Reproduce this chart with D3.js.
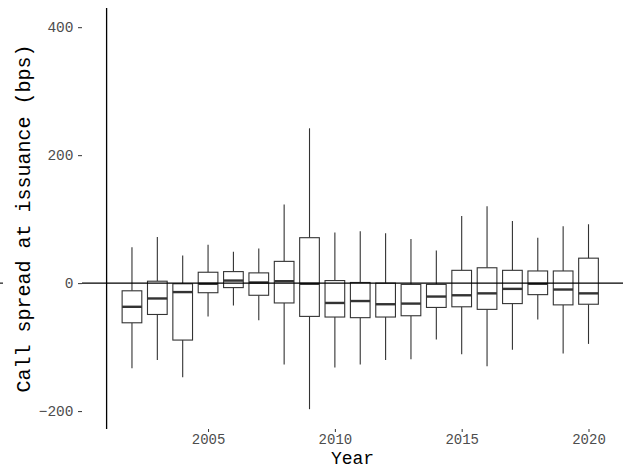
<!DOCTYPE html>
<html>
<head>
<meta charset="utf-8">
<script src="https://cdn.jsdelivr.net/npm/d3@7"></script>
<style>
  html, body { margin: 0; padding: 0; background: #ffffff; }
  svg { display: block; }
  text { font-family: "Liberation Mono", "DejaVu Sans Mono", monospace; }
</style>
</head>
<body>
<svg id="chart" width="623" height="469"></svg>
<script>
// Call spread at issuance by year: box-plot summaries (bps)
const years   = [2002, 2003, 2004, 2005, 2006, 2007, 2008, 2009, 2010, 2011,
                 2012, 2013, 2014, 2015, 2016, 2017, 2018, 2019, 2020];
const lowerW  = [-133, -120, -147, -52, -35, -58, -127, -197, -132, -127,
                 -120, -119, -88, -111, -130, -104, -57, -110, -95];
const q1      = [-62, -49, -89, -15, -7, -19, -31, -52, -53, -54,
                 -53, -51, -38, -37, -41, -32, -18, -34, -33];
const medians = [-37, -24, -14, -1, 4, 1, 3, -1, -31, -28,
                 -33, -32, -21, -19, -16, -9, -1, -10, -16];
const q3      = [-12, 3, -1, 17, 18, 16, 34, 71, 4, 1,
                 0, -2, -2, 20, 24, 20, 19, 19, 39];
const upperW  = [56, 72, 43, 60, 49, 54, 123, 242, 79, 81,
                 78, 69, 51, 105, 120, 97, 71, 89, 92];

const yTicks = [-200, 0, 200, 400];
const xTicks = [2005, 2010, 2015, 2020];
const refYear = 2001;   // vertical reference line
const refSpread = 0;    // horizontal reference line

const boxes = years.map((yr, i) => ({
  year: yr, lo: lowerW[i], q1: q1[i], med: medians[i], q3: q3[i], hi: upperW[i]
}));

const svg = d3.select("#chart");
const panel = { left: 82, right: 623, top: 8, bottom: 429 };

const x = d3.scaleLinear().domain([2000.03, 2021.36]).range([panel.left, panel.right]);
const y = d3.scaleLinear().domain([-228, 430]).range([panel.bottom, panel.top]);
const boxHalf = 0.388; // half box width in years

// Y axis (ticks and labels only)
const yAxis = svg.append("g")
  .attr("transform", `translate(${panel.left},0)`)
  .call(d3.axisLeft(y).tickValues(yTicks).tickSize(4).tickPadding(4.5));
yAxis.select(".domain").remove();
yAxis.selectAll(".tick line").attr("stroke", "#333333").attr("stroke-width", 1);
yAxis.selectAll(".tick text")
  .attr("fill", "#4d4d4d")
  .style("font-size", "14.5px");

// X axis (ticks and labels only)
const xAxis = svg.append("g")
  .attr("transform", `translate(0,${panel.bottom})`)
  .call(d3.axisBottom(x).tickValues(xTicks).tickFormat(d3.format("d")).tickSize(3).tickPadding(2.5));
xAxis.select(".domain").remove();
xAxis.selectAll(".tick line").attr("stroke", "#333333").attr("stroke-width", 1);
xAxis.selectAll(".tick text")
  .attr("fill", "#4d4d4d")
  .style("font-size", "14px");

// Boxes
const g = svg.append("g");
const bx = g.selectAll("g.box").data(boxes).join("g").attr("class", "box");

bx.append("line")
  .attr("x1", d => x(d.year)).attr("x2", d => x(d.year))
  .attr("y1", d => y(d.q3)).attr("y2", d => y(d.hi))
  .attr("stroke", "#333333").attr("stroke-width", 1.1);
bx.append("line")
  .attr("x1", d => x(d.year)).attr("x2", d => x(d.year))
  .attr("y1", d => y(d.q1)).attr("y2", d => y(d.lo))
  .attr("stroke", "#333333").attr("stroke-width", 1.1);
bx.append("rect")
  .attr("x", d => x(d.year - boxHalf))
  .attr("width", d => x(d.year + boxHalf) - x(d.year - boxHalf))
  .attr("y", d => y(d.q3))
  .attr("height", d => y(d.q1) - y(d.q3))
  .attr("fill", "#ffffff")
  .attr("stroke", "#333333").attr("stroke-width", 1.1);
bx.append("line")
  .attr("x1", d => x(d.year - boxHalf)).attr("x2", d => x(d.year + boxHalf))
  .attr("y1", d => y(d.med)).attr("y2", d => y(d.med))
  .attr("stroke", "#333333").attr("stroke-width", 2.4);

// Reference lines
svg.append("line")
  .attr("x1", panel.left).attr("x2", panel.right)
  .attr("y1", y(refSpread)).attr("y2", y(refSpread))
  .attr("stroke", "#000000").attr("stroke-width", 1.1);
svg.append("line")
  .attr("x1", 0).attr("x2", 3)
  .attr("y1", y(refSpread)).attr("y2", y(refSpread))
  .attr("stroke", "#000000").attr("stroke-width", 1.1);
svg.append("line")
  .attr("x1", x(refYear)).attr("x2", x(refYear))
  .attr("y1", panel.top).attr("y2", panel.bottom)
  .attr("stroke", "#000000").attr("stroke-width", 1.3);

// Axis titles
svg.append("text")
  .attr("x", (panel.left + panel.right) / 2)
  .attr("y", 463.5)
  .attr("text-anchor", "middle")
  .attr("fill", "#000000")
  .style("font-size", "18px")
  .text("Year");

svg.append("text")
  .attr("transform", `translate(30,${(panel.top + panel.bottom) / 2}) rotate(-90)`)
  .attr("text-anchor", "middle")
  .attr("fill", "#000000")
  .style("font-size", "20px")
  .text("Call spread at issuance (bps)");
</script>
</body>
</html>
